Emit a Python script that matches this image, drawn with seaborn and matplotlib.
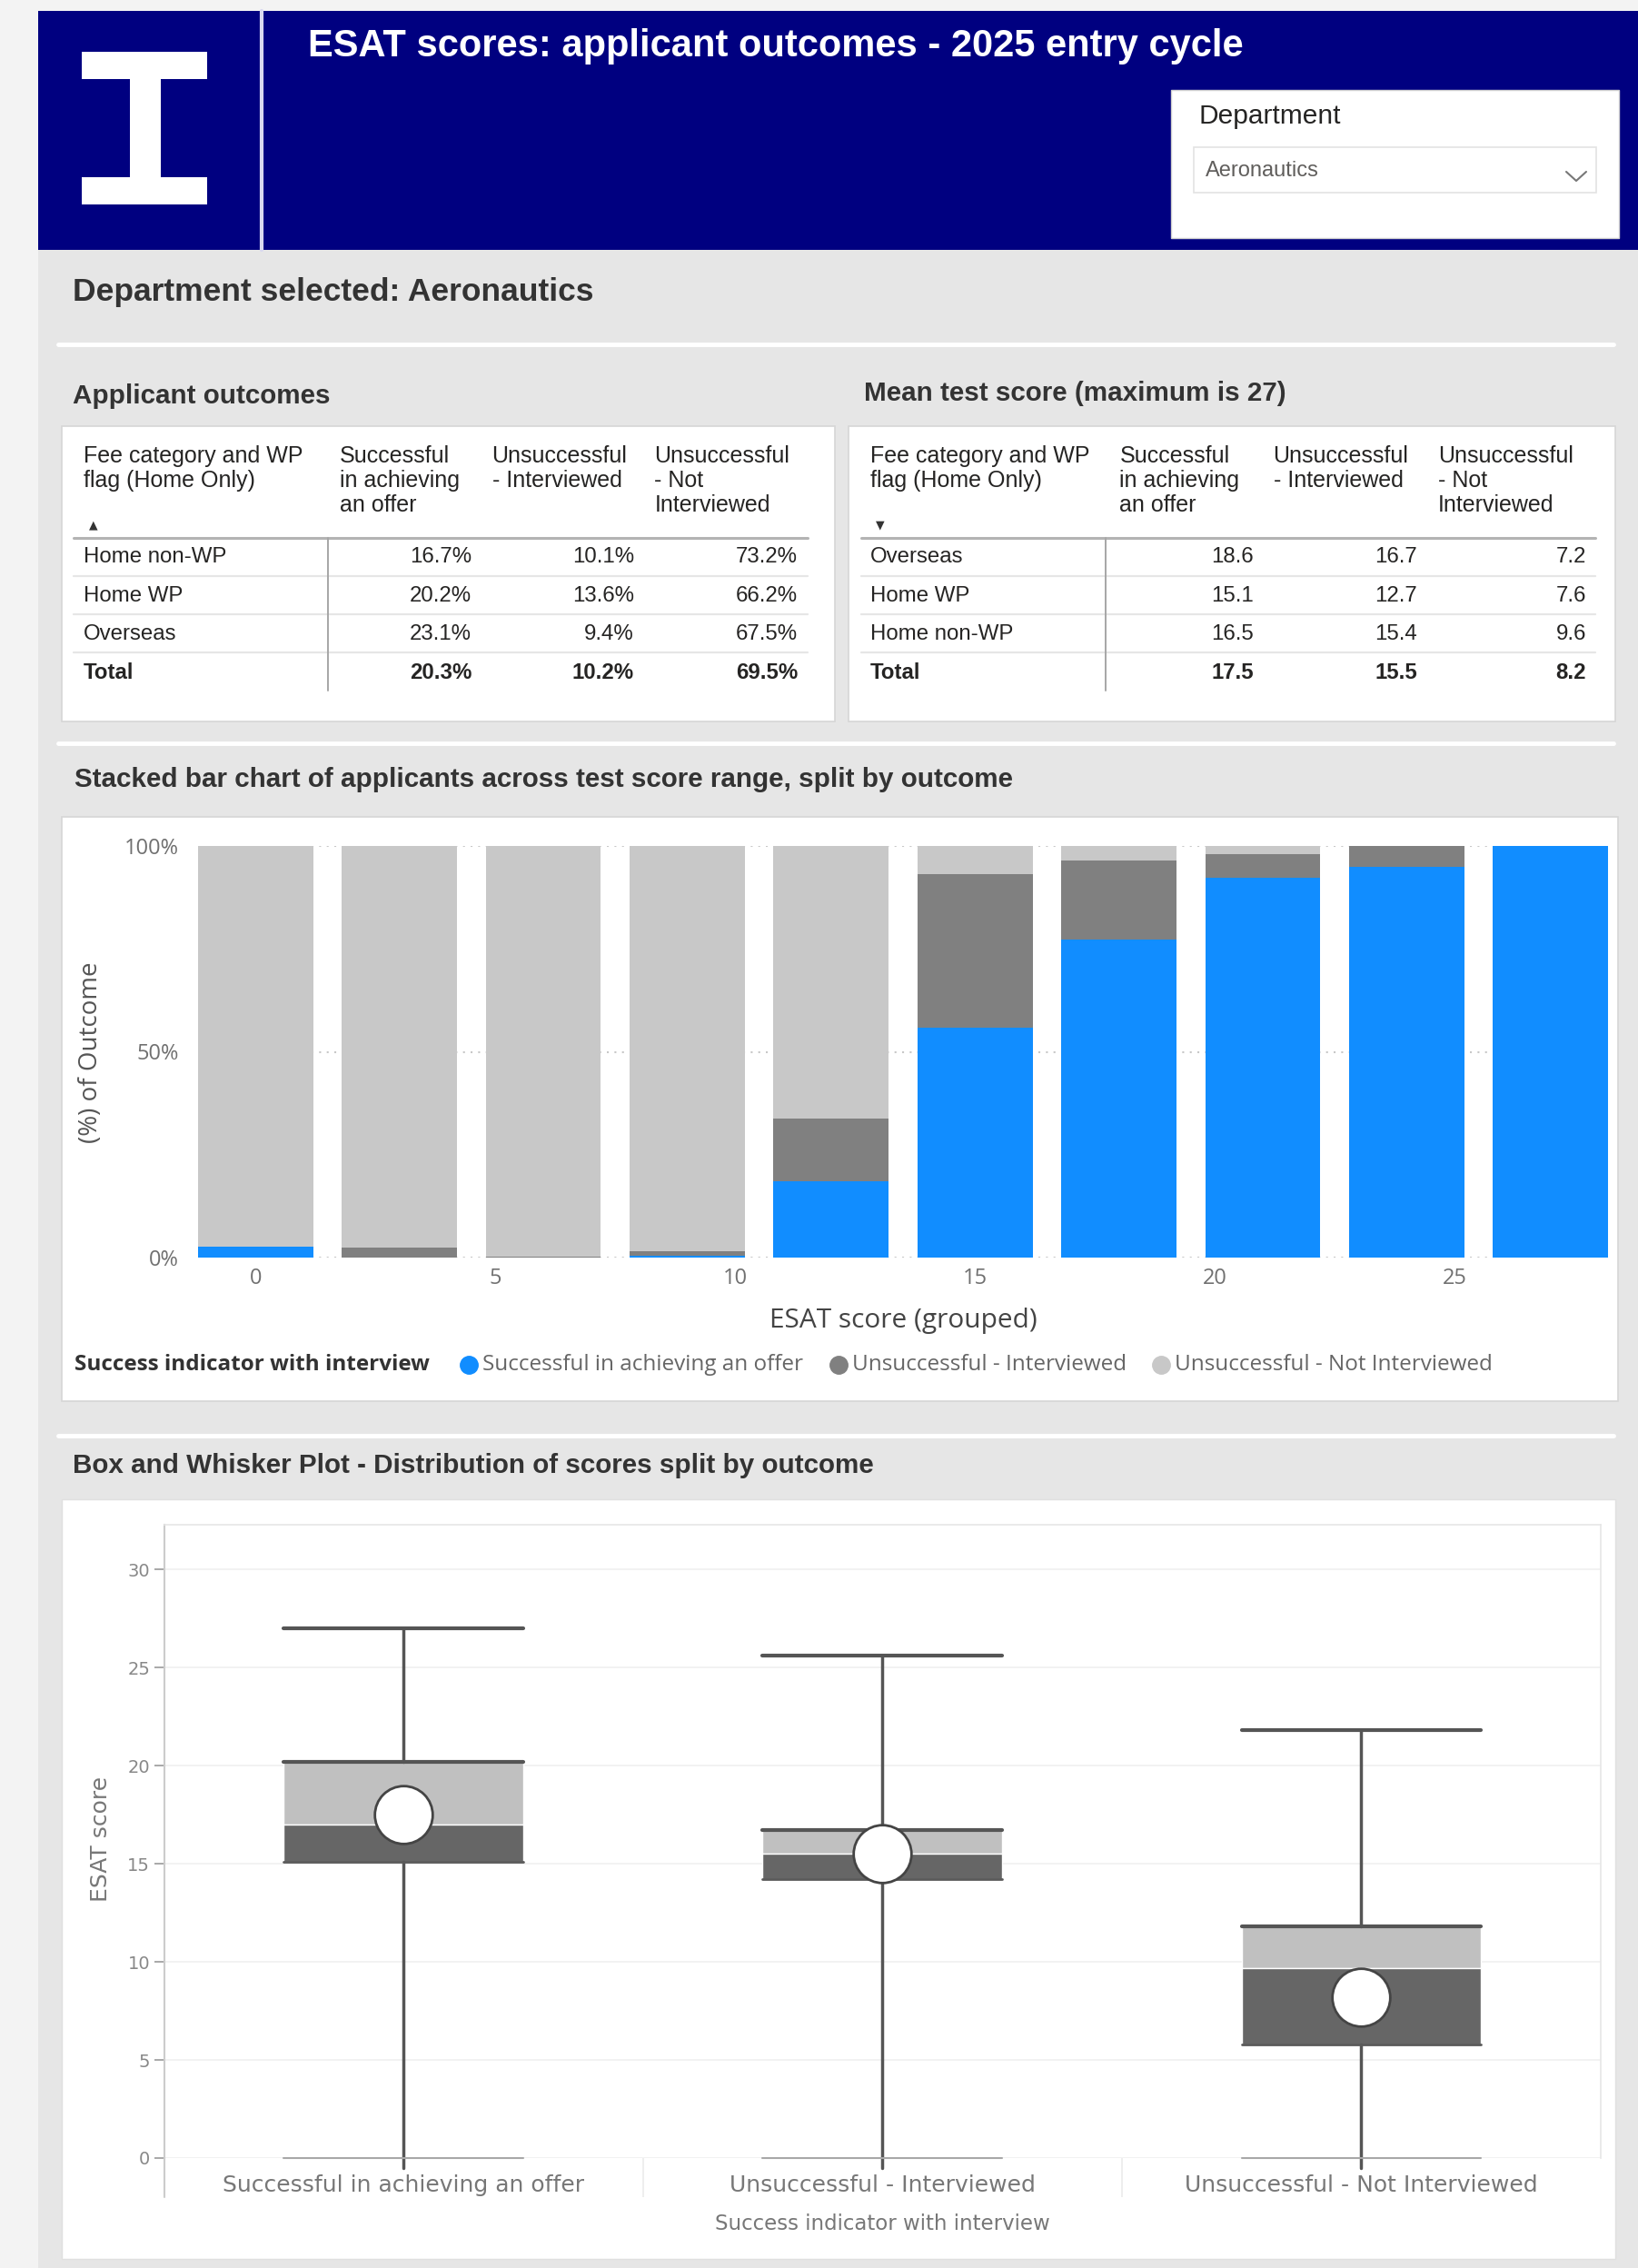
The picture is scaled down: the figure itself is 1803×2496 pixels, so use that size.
import matplotlib
matplotlib.use("Agg")
import matplotlib.pyplot as plt
import seaborn as sns
import pandas as pd
from matplotlib.patches import Rectangle
from matplotlib.lines import Line2D

# values
outcomes = ["Successful in achieving an offer", "Unsuccessful - Interviewed",
            "Unsuccessful - Not Interviewed"]
table_headers = ["Fee category and WP\nflag (Home Only)", "Successful\nin achieving\nan offer",
                 "Unsuccessful\n- Interviewed", "Unsuccessful\n- Not\nInterviewed"]

outcome_rows = ["Home non-WP", "Home WP", "Overseas", "Total"]
outcome_offer = [16.7, 20.2, 23.1, 20.3]
outcome_interviewed = [10.1, 13.6, 9.4, 10.2]
outcome_not_interviewed = [73.2, 66.2, 67.5, 69.5]

mean_rows = ["Overseas", "Home WP", "Home non-WP", "Total"]
mean_offer = [18.6, 15.1, 16.5, 17.5]
mean_interviewed = [16.7, 12.7, 15.4, 15.5]
mean_not_interviewed = [7.2, 7.6, 9.6, 8.2]

score_groups = [0, 3, 6, 9, 12, 15, 18, 21, 24, 27]
share_offer = [2.7, 0.0, 0.0, 0.5, 18.6, 55.8, 77.2, 92.2, 95.0, 100.0]
share_interviewed = [0.0, 2.4, 0.3, 1.0, 15.2, 37.4, 19.2, 5.9, 5.0, 0.0]
share_not_interviewed = [97.3, 97.6, 99.7, 98.5, 66.2, 6.8, 3.6, 1.9, 0.0, 0.0]

box_max = [27.0, 25.6, 21.8]
box_q3 = [20.2, 16.7, 11.8]
box_median = [17.0, 15.5, 9.7]
box_q1 = [15.1, 14.2, 5.8]
box_min = [0.0, 0.0, 0.0]
box_mean = [17.5, 15.5, 8.2]

BLUE, DARK, LIGHT = "#118DFF", "#808080", "#C8C8C8"
NAVY = "#000080"
TXT = "#252423"

sns.set_theme(style="white")
plt.rcParams["font.family"] = ["Liberation Sans", "DejaVu Sans"]

W, H = 1803, 2496
fig = plt.figure(figsize=(W / 100, H / 100), dpi=100)
fig.patch.set_facecolor("#F3F3F3")


def fx(x):
    return x / W


def fy(y):
    return 1 - y / H


def rect(x0, y0, x1, y1, fc, ec="none", lw=0, z=-10):
    fig.add_artist(Rectangle((fx(x0), fy(y1)), (x1 - x0) / W, (y1 - y0) / H,
                             transform=fig.transFigure, facecolor=fc,
                             edgecolor=ec, linewidth=lw, zorder=z))


def line(xs, ys, color, lw, z=-5):
    fig.add_artist(Line2D([fx(x) for x in xs], [fy(y) for y in ys],
                          transform=fig.transFigure, color=color,
                          linewidth=lw, zorder=z))


def txt(x, y, s, size, color=TXT, weight="normal", ha="left", va="center",
        family=None, **kw):
    fig.text(fx(x), fy(y), s, fontsize=size, color=color, fontweight=weight,
             ha=ha, va=va, family=family or ["Liberation Sans", "DejaVu Sans"], **kw)


# page background, header band and panels
rect(42, 275, W, H, "#E6E6E6", z=-20)
rect(42, 12, W, 275, NAVY, z=-20)
line([288, 288], [12, 275], "#D8D8F0", 3, z=-15)
rect(90, 57, 228, 87, "white", z=-15)
rect(143, 87, 177, 195, "white", z=-15)
rect(90, 195, 228, 225, "white", z=-15)
txt(339, 62, "ESAT scores: applicant outcomes - 2025 entry cycle", 30,
    color="white", weight="bold", va="baseline")

rect(1289, 99, 1782, 262, "white", ec="#D0D0D0", lw=1, z=-15)
txt(1320, 128, "Department", 21.5)
rect(1314, 162, 1757, 212, "white", ec="#E3E3E3", lw=1.2, z=-14)
txt(1327, 188, "Aeronautics", 17, color="#605E5C")
line([1724, 1735, 1746], [189, 199, 189], "#777777", 1.5, z=-13)

for y in (379, 818, 1580):
    line([64, 1776], [y, y], "white", 3.5, z=-15)

txt(80, 321, "Department selected: Aeronautics", 25.5, color="#333333", weight="bold")
txt(80, 436, "Applicant outcomes", 21.3, color="#333333", weight="bold")
txt(951, 433, "Mean test score (maximum is 27)", 21.3, color="#333333", weight="bold")
txt(82, 858, "Stacked bar chart of applicants across test score range, split by outcome",
    21.3, color="#333333", weight="bold")
txt(80, 1613, "Box and Whisker Plot - Distribution of scores split by outcome",
    21.3, color="#333333", weight="bold")

rect(68, 469, 919, 794, "white", ec="#D6D6D6", lw=1.2)
rect(934, 469, 1778, 794, "white", ec="#D6D6D6", lw=1.2)
rect(68, 899, 1781, 1542, "white", ec="#D6D6D6", lw=1.2)
rect(68, 1650, 1778, 2486, "white", ec="#E0E0E0", lw=1.0)


# ---- the two tables ----
def draw_table(x0, x1, col_left, val_right, vsep, rows, cols, arrow, pct):
    for left, head in zip(col_left, table_headers):
        for i, part in enumerate(head.split("\n")):
            txt(left, 502 + 27 * i, part, 18)
    txt(col_left[0] + 6, 578, arrow, 9, color="#333333", family="DejaVu Sans")
    line([x0, x1], [592, 592], "#B3B3B3", 2.2)
    row_y = [613, 655.5, 698, 740.5]
    for y in (634, 676, 718):
        line([x0, x1], [y, y], "#E6E6E6", 1.6)
    line([vsep, vsep], [592, 760], "#A6A6A6", 1.4)
    for r, name in enumerate(rows):
        wt = "bold" if name == "Total" else "normal"
        txt(col_left[0], row_y[r], name, 17.3, weight=wt)
        for c, vals in enumerate(cols):
            s = f"{vals[r]:.1f}%" if pct else f"{vals[r]:.1f}"
            txt(val_right[c], row_y[r], s, 17.3, weight=wt, ha="right")


draw_table(81, 889, [92, 374, 541.5, 720.5], [519, 698, 878], 361, outcome_rows,
           [outcome_offer, outcome_interviewed, outcome_not_interviewed], "\u25B2", True)
draw_table(948, 1756, [958, 1232.5, 1401.5, 1583], [1380, 1560, 1746], 1217, mean_rows,
           [mean_offer, mean_interviewed, mean_not_interviewed], "\u25BC", False)

# ---- stacked 100% bar chart ----
bars = pd.DataFrame({"score": score_groups, "offer": share_offer,
                     "interviewed": share_interviewed,
                     "not_interviewed": share_not_interviewed})
bars["mid"] = bars["offer"] + bars["interviewed"]
bars["top"] = bars["mid"] + bars["not_interviewed"]

ax1 = fig.add_axes([fx(218), fy(1384), (1770 - 218) / W, (1384 - 931) / H])
for col, colour in [("top", LIGHT), ("mid", DARK), ("offer", BLUE)]:
    sns.barplot(data=bars, x="score", y=col, native_scale=True, orient="x",
                width=0.8, color=colour, saturation=1, errorbar=None,
                linewidth=0, ax=ax1)
ax1.set_xlim(-1.2, 28.2)
ax1.set_ylim(0, 100)
ax1.set_xticks([0, 5, 10, 15, 20, 25])
ax1.set_yticks([0, 50, 100], ["0%", "50%", "100%"])
ax1.set_axisbelow(True)
ax1.yaxis.grid(True, linestyle=(0, (1, 3)), color="#C8C8C8", linewidth=1.5)
ax1.tick_params(axis="both", length=0, labelsize=17, labelcolor="#707070")
ax1.tick_params(axis="y", pad=15)
ax1.tick_params(axis="x", pad=8)
for lab in ax1.get_xticklabels() + ax1.get_yticklabels():
    lab.set_family("Open Sans")
ax1.set_xlabel("")
ax1.set_ylabel("")
sns.despine(ax=ax1, left=True, bottom=True)
txt(100, 1158, "(%) of Outcome", 20, color="#555555", family="Open Sans",
    rotation=90, ha="center")
txt(994, 1453, "ESAT score (grouped)", 21.5, color="#444444", family="Open Sans", ha="center")

txt(82, 1502, "Success indicator with interview", 17.5, color="#333333",
    weight="bold", family="Open Sans")
for cx, tx, label, colour in zip([516, 923, 1278], [531, 938, 1293], outcomes,
                                 [BLUE, DARK, LIGHT]):
    fig.add_artist(Line2D([fx(cx)], [fy(1502)], marker="o", markersize=14,
                          color=colour, linestyle="", transform=fig.transFigure))
    txt(tx, 1502, label, 17.5, color="#666666", family="Open Sans")

# ---- box and whisker plot ----
ax2 = fig.add_axes([fx(180.5), fy(2375), (1762 - 180.5) / W, (2375 - 1677.6) / H])
pos = [0, 1, 2]
upper = [a - b for a, b in zip(box_q3, box_median)]
lower = [a - b for a, b in zip(box_median, box_q1)]
ax2.bar(pos, upper, bottom=box_median, width=0.5, color="#C0C0C0", zorder=2)
ax2.bar(pos, lower, bottom=box_q1, width=0.5, color="#666666", zorder=2)
for p in pos:
    ax2.plot([p, p], [box_q3[p], box_max[p]], color="#555555", lw=2.5, zorder=3)
    ax2.plot([p, p], [box_min[p] - 0.5, box_q1[p]], color="#555555", lw=2.5, zorder=3,
             clip_on=False)
    ax2.plot([p - 0.25, p + 0.25], [box_max[p]] * 2, color="#555555", lw=3, zorder=3)
    ax2.plot([p - 0.25, p + 0.25], [box_q3[p]] * 2, color="#555555", lw=3, zorder=3)
    ax2.plot([p - 0.25, p + 0.25], [box_q1[p]] * 2, color="#5A5A5A", lw=2, zorder=3)
    ax2.plot([p - 0.25, p + 0.25], [box_min[p]] * 2, color="#A8A8A8", lw=1.5,
             zorder=3, clip_on=False)
sns.scatterplot(x=pos, y=box_mean, s=2100, color="white", edgecolor="#444444",
                linewidth=2, zorder=5, legend=False, ax=ax2)
ax2.set_xlim(-0.5, 2.5)
ax2.set_ylim(0, 32.3)
ax2.set_yticks(range(0, 31, 5))
ax2.set_xticks(pos, outcomes)
ax2.set_xticks([0.5, 1.5], minor=True)
ax2.yaxis.grid(True, color="#F0F0F0", linewidth=1.2)
ax2.set_axisbelow(True)
ax2.tick_params(axis="y", length=8, width=1.2, color="#999999", labelsize=14,
                labelcolor="#888888", pad=3, left=True)
ax2.tick_params(axis="x", which="major", length=0, labelsize=18,
                labelcolor="#777777", pad=13)
ax2.tick_params(axis="x", which="minor", length=31, width=1.2, color="#EBEBEB",
                direction="out", bottom=True)
for lab in ax2.get_xticklabels() + ax2.get_yticklabels():
    lab.set_family("DejaVu Sans")
ax2.set_xlabel("")
ax2.set_ylabel("")
ax2.spines["bottom"].set_visible(False)
ax2.spines["left"].set_color("#CCCCCC")
ax2.spines["left"].set_linewidth(1.5)
for side in ("top", "right"):
    ax2.spines[side].set_color("#E6E6E6")
    ax2.spines[side].set_linewidth(1.2)
ax2.plot([-0.5, -0.5], [0, -2], color="#CCCCCC", lw=1.5, clip_on=False)
txt(111, 2024, "ESAT score", 18, color="#777777", family="DejaVu Sans",
    rotation=90, ha="center")
txt(971, 2447, "Success indicator with interview", 16.5, color="#777777",
    family="DejaVu Sans", ha="center")

fig.savefig("out.png", dpi=100, facecolor=fig.get_facecolor())
